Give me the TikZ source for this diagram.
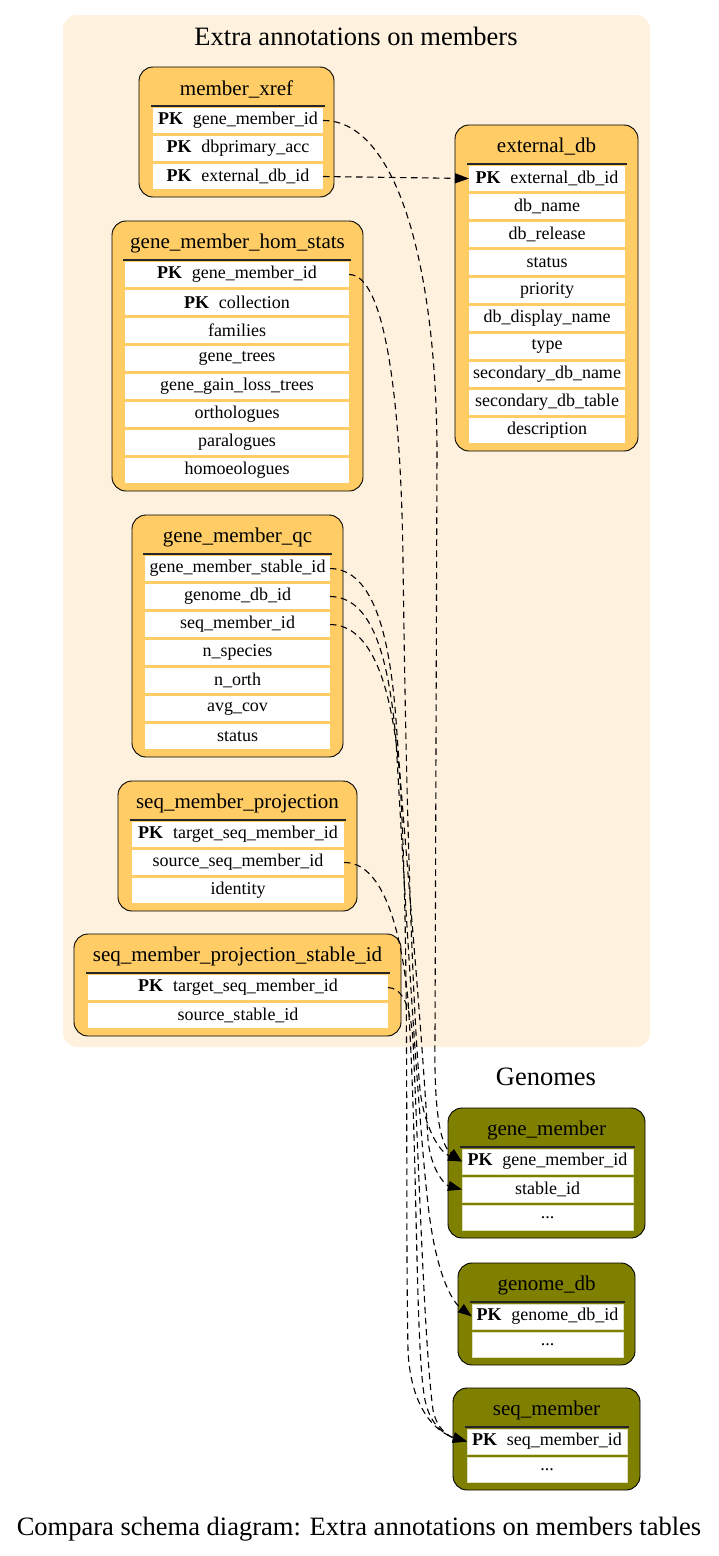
\documentclass[tikz,border=0pt]{standalone}
\usepackage{fontspec}
\setmainfont{Liberation Serif}
\usetikzlibrary{arrows.meta}
\definecolor{clusterbg}{HTML}{FEF2DF}
\definecolor{tborange}{HTML}{FFCC66}
\definecolor{tbolive}{HTML}{808000}
\tikzset{
  tab-orange/.style={draw=black, fill=tborange, rounded corners=14pt, line width=0.9pt, inner sep=0pt, outer sep=0pt},
  tab-olive/.style={draw=black, fill=tbolive, rounded corners=14pt, line width=0.9pt, inner sep=0pt, outer sep=0pt},
  cell-orange/.style={fill=white, draw=none, inner sep=0pt, outer sep=0pt},
  cell-olive/.style={fill=white, draw=tbolive!25, line width=0.8pt, inner sep=0pt, outer sep=0pt},
  rowtext/.style={font=\fontsize{18}{20}\selectfont},
  ttl/.style={font=\fontsize{21}{24}\selectfont, inner sep=0pt},
  bigttl/.style={font=\fontsize{26.5}{30}\selectfont, inner sep=0pt},
  titleline/.style={draw=black!85, line width=1.6pt},
  fk/.style={draw=black, dash pattern=on 6.5pt off 4.5pt, line width=1.1pt, -{Triangle[length=14pt,width=10pt]}},
}
\newcommand\pk{\textbf{PK}\hspace{0.55em}}
\newcommand\dbtable[9]{%
  \def\nrows{0}%
  \foreach \r in {#9}{\pgfmathtruncatemacro\tmpn{\nrows+1}\xdef\nrows{\tmpn}}%
  \pgfmathsetmacro\tbot{#4+46+28*\nrows}%
  \pgfmathsetmacro\tw{#3-#2}%
  \pgfmathsetmacro\th{\tbot-#4}%
  \pgfmathsetmacro\tcx{(#2+#3)/2}%
  \pgfmathsetmacro\tcy{(#4+\tbot)/2}%
  \node[tab-#7, minimum width=\tw pt, minimum height=\th pt] (#1) at (\tcx,\tcy) {};
  \node[ttl] (#1-t) at (\tcx,#4+22) {#8};
  \pgfmathsetmacro\ccx{(#5+#6)/2}%
  \pgfmathsetmacro\cw{#6-#5}%
  \draw[titleline] (#5-2,#4+39) -- (#6+2,#4+39);
  \foreach \r [count=\i] in {#9}{%
    \pgfmathsetmacro\ry{#4+53.5+28*(\i-1)}%
    \node[cell-#7, minimum width=\cw pt, minimum height=25pt, rowtext] (#1-\i) at (\ccx,\ry) {\r};
  }%
}
\begin{document}
\begin{tikzpicture}[x=1pt,y=-1pt]
\useasboundingbox (0,0) rectangle (719,1556);
% clusters
\fill[clusterbg, rounded corners=14pt] (63,15) rectangle (650,1047);
\node[bigttl] (cl1) at (356,36) {Extra annotations on members};
\node[bigttl] (cl2) at (546,1077) {Genomes};
\node[bigttl] (glabel) at (359,1529) {Compara schema diagram: Extra annotations on members tables};

% tables
\dbtable{mx}{139}{334}{67}{153}{323}{orange}{member\_xref}{\pk gene\_member\_id,\pk dbprimary\_acc,\pk external\_db\_id}
\dbtable{ext}{455}{638}{125}{469}{625}{orange}{external\_db}{\pk external\_db\_id,db\_name,db\_release,status,priority,db\_display\_name,type,secondary\_db\_name,secondary\_db\_table,description}
\dbtable{hs}{112}{363}{221}{125}{349}{orange}{gene\_member\_hom\_stats}{\pk gene\_member\_id,\pk collection,families,gene\_trees,gene\_gain\_loss\_trees,orthologues,paralogues,homoeologues}
\dbtable{qc}{132}{343}{515}{145}{330}{orange}{gene\_member\_qc}{gene\_member\_stable\_id,genome\_db\_id,seq\_member\_id,n\_species,n\_orth,avg\_cov,status}
\dbtable{smp}{118}{357}{781}{132}{344}{orange}{seq\_member\_projection}{\pk target\_seq\_member\_id,source\_seq\_member\_id,identity}
\dbtable{smps}{74}{401}{934}{88}{388}{orange}{seq\_member\_projection\_stable\_id}{\pk target\_seq\_member\_id,source\_stable\_id}
\dbtable{gm}{448}{645}{1108}{462}{633}{olive}{gene\_member}{\pk gene\_member\_id,stable\_id,.{}.{}.}
\dbtable{gdb}{458}{635}{1263}{472}{623}{olive}{genome\_db}{\pk genome\_db\_id,.{}.{}.}
\dbtable{sm}{453}{640}{1388}{467}{627}{olive}{seq\_member}{\pk seq\_member\_id,.{}.{}.}

% foreign keys
\draw[fk] (mx-3.east) -- (ext-1.west);
\draw[fk] (mx-1.east) .. controls (395,120) and (436,260) .. (437,450)
  -- (435,1040) .. controls (434,1110) and (440,1145) .. (gm-1.west);
\draw[fk] (hs-1.east) .. controls (385,274) and (401,400) .. (403,560)
  .. controls (406,800) and (412,1000) .. (420,1090)
  .. controls (425,1130) and (440,1152) .. (gm-1.west);
\draw[fk] (qc-1.east) .. controls (375,569) and (390,640) .. (396,720)
  .. controls (405,850) and (420,1000) .. (428,1140)
  .. controls (431,1170) and (445,1185) .. (gm-2.west);
\draw[fk] (qc-2.east) .. controls (370,597) and (388,650) .. (396,740)
  .. controls (405,900) and (420,1150) .. (430,1220)
  .. controls (437,1270) and (450,1300) .. (gdb-1.west);
\draw[fk] (qc-3.east) .. controls (370,625) and (392,680) .. (400,780)
  .. controls (410,950) and (405,1200) .. (408,1350)
  .. controls (410,1400) and (430,1430) .. (sm-1.west);
\draw[fk] (smp-2.east) .. controls (380,862) and (400,920) .. (408,1000)
  .. controls (418,1150) and (415,1350) .. (425,1400)
  .. controls (430,1425) and (445,1435) .. (sm-1.west);
\draw[fk] (smps-1.east) .. controls (400,988) and (410,1000) .. (413,1040)
  .. controls (420,1200) and (425,1350) .. (433,1410)
  .. controls (437,1430) and (450,1437) .. (sm-1.west);
\end{tikzpicture}
\end{document}
